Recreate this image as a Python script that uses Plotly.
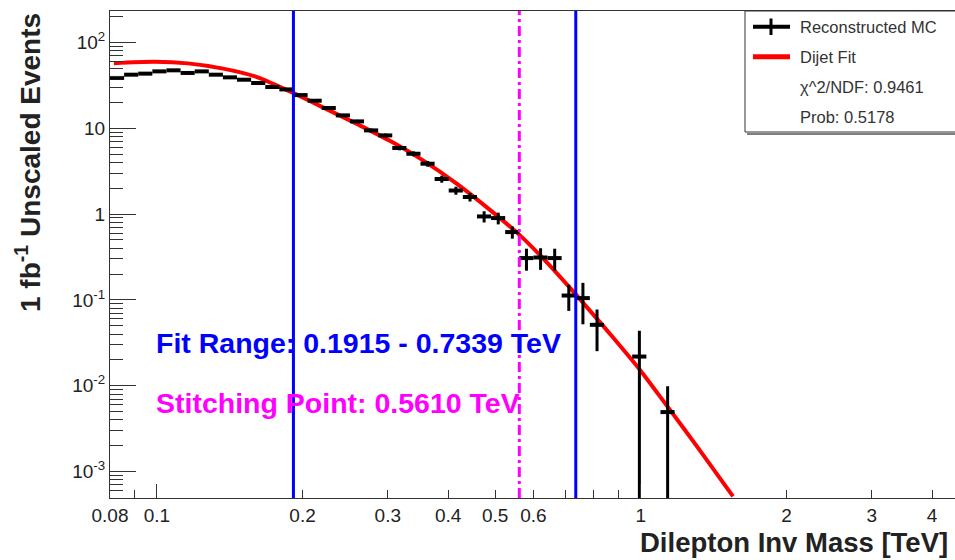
import math
import plotly.graph_objects as go

# ---------------- data ----------------
bin_edges = [0.08, 0.08556, 0.0915, 0.09786, 0.10466, 0.11193, 0.1197, 0.12802, 0.13691,
             0.14642, 0.15659, 0.16747, 0.1791, 0.19154, 0.20485, 0.21907, 0.23429, 0.25057,
             0.26797, 0.28659, 0.30649, 0.32778, 0.35055, 0.3749, 0.40094, 0.42879, 0.45858,
             0.49043, 0.5245, 0.56093, 0.59989, 0.64156, 0.68613, 0.73379, 0.78476, 0.83927,
             0.89757, 0.95991, 1.02683, 1.09811, 1.1744]
mc_counts = [38.5, 42.0, 43.2, 45.9, 47.2, 44.0, 45.9, 42.0, 39.1, 36.7, 33.6, 30.2, 28.3,
             24.3, 20.9, 17.2, 14.1, 12.0, 9.43, 8.24, 5.88, 5.04, 3.86, 2.56, 1.88, 1.58,
             0.938, 0.898, 0.617, 0.307, 0.312, 0.307, 0.1125, 0.105, 0.0513, None, None,
             0.0219, None, 0.00494]
mc_errors = [0.9, 0.95, 0.95, 1.0, 1.0, 0.95, 1.0, 0.95, 0.9, 0.9, 0.85, 0.8, 0.78, 0.72,
             0.66, 0.6, 0.55, 0.5, 0.45, 0.42, 0.36, 0.33, 0.3, 0.24, 0.2, 0.18, 0.14, 0.14,
             0.1, 0.088, 0.088, 0.088, 0.038, 0.053, 0.026, None, None, 0.0219, None, 0.00494]

fit_mass = [0.0815, 0.0990, 0.1159, 0.1362, 0.1594, 0.1883, 0.2204, 0.2591, 0.3031, 0.3547,
            0.4170, 0.4878, 0.5628, 0.6339, 0.7141, 0.7744, 0.8845, 0.9962, 1.1328, 1.3064,
            1.5509]
fit_values = [57.2, 59.5, 56.9, 49.7, 40.1, 26.8, 17.5, 11.2, 7.12, 4.22, 2.25, 1.12, 0.565,
              0.289, 0.138, 0.082, 0.0343, 0.0153, 0.00584, 0.00197, 0.000516]

fit_range = [0.1915, 0.7339]
stitch_point = 0.5610

x_tick_vals = [0.08, 0.1, 0.2, 0.3, 0.4, 0.5, 0.6, 1, 2, 3, 4]
x_tick_text = ["0.08", "0.1", "0.2", "0.3", "0.4", "0.5", "0.6", "1", "2", "3", "4"]
x_minor_vals = [0.09, 0.7, 0.8, 0.9]
x_long_ticks = [0.1, 1]
y_tick_vals = [1e-3, 1e-2, 1e-1, 1, 10, 100]
y_tick_text = ["10<sup>-3</sup>", "10<sup>-2</sup>", "10<sup>-1</sup>", "1", "10", "10<sup>2</sup>"]

legend_labels = ["Reconstructed MC", "Dijet Fit", "\u03c7^2/NDF: 0.9461", "Prob: 0.5178"]
fit_text = "Fit Range: 0.1915 - 0.7339 TeV"
stitch_text = "Stitching Point: 0.5610 TeV"
x_title = "Dilepton Inv Mass [TeV]"
y_title = "1 fb<sup>-1</sup> Unscaled Events"

x_range = [0.08, 4.46]
y_range_log = [-3.307, 2.365]

# ---------------- geometry ----------------
W, H = 955, 560
ML, MR, MT, MB = 110, 0, 11, 62
PW, PH = W - ML - MR, H - MT - MB
FONT = "Liberation Sans, Arial, Helvetica, sans-serif"


def px(x):
    return (x - ML) / PW


def py(y):
    return (H - MB - y) / PH


# ---------------- build histogram points ----------------
cx, cy, ex_lo, ex_hi, ey_lo, ey_hi = [], [], [], [], [], []
for i, v in enumerate(mc_counts):
    if v is None:
        continue
    lo, hi = bin_edges[i], bin_edges[i + 1]
    c = 0.5 * (lo + hi)
    cx.append(c)
    cy.append(v)
    ex_lo.append(c - lo)
    ex_hi.append(hi - c)
    e = mc_errors[i]
    ey_hi.append(e)
    ey_lo.append(min(e, v * 0.9999))

fig = go.Figure()

fig.add_trace(go.Scatter(
    x=fit_mass, y=fit_values, mode="lines",
    line=dict(color="#ff0000", width=4, shape="spline", smoothing=0.8),
    hoverinfo="skip", showlegend=False))

fig.add_trace(go.Scatter(
    x=cx, y=cy, mode="markers",
    marker=dict(color="black", size=2),
    error_x=dict(type="data", symmetric=False, array=ex_hi, arrayminus=ex_lo,
                 color="black", thickness=4, width=0),
    error_y=dict(type="data", symmetric=False, array=ey_hi, arrayminus=ey_lo,
                 color="black", thickness=3, width=0),
    showlegend=False))

# invisible trace to carry the long-tick overlay axis
fig.add_trace(go.Scatter(x=[1], y=[None], xaxis="x2", mode="markers",
                         showlegend=False, hoverinfo="skip"))

shapes = []
for xv in fit_range:
    shapes.append(dict(type="line", xref="x", yref="paper", x0=xv, x1=xv, y0=0, y1=1,
                       line=dict(color="#0000ff", width=3), layer="above"))
shapes.append(dict(type="line", xref="x", yref="paper", x0=stitch_point, x1=stitch_point,
                   y0=0, y1=1, line=dict(color="#ff00ff", width=3, dash="10px,4px,3px,4px"),
                   layer="above"))

# legend box
shapes.append(dict(type="rect", xref="paper", yref="paper", x0=px(745), x1=px(962),
                   y0=py(132), y1=py(11), line=dict(color="#333333", width=1),
                   fillcolor="white", layer="above"))
shapes.append(dict(type="line", xref="paper", yref="paper", x0=px(747), x1=px(962),
                   y0=py(134), y1=py(134), line=dict(color="#555555", width=1.5),
                   layer="above"))
# legend glyphs
shapes.append(dict(type="line", xref="paper", yref="paper", x0=px(753), x1=px(790),
                   y0=py(26.7), y1=py(26.7), line=dict(color="black", width=4), layer="above"))
shapes.append(dict(type="line", xref="paper", yref="paper", x0=px(771), x1=px(771),
                   y0=py(18.5), y1=py(35), line=dict(color="black", width=3), layer="above"))
shapes.append(dict(type="line", xref="paper", yref="paper", x0=px(753), x1=px(790),
                   y0=py(56.7), y1=py(56.7), line=dict(color="#ff0000", width=5), layer="above"))

annotations = []
for lab, yy in zip(legend_labels, [27, 57, 87, 117]):
    annotations.append(dict(text=lab, xref="paper", yref="paper", x=px(798), y=py(yy),
                            xanchor="left", yanchor="middle", showarrow=False,
                            font=dict(family=FONT, size=16.5, color="#333333")))

annotations.append(dict(text="<b>" + fit_text + "</b>", xref="paper", yref="paper",
                        x=px(154), y=py(343), xanchor="left", yanchor="middle",
                        showarrow=False, font=dict(family=FONT, size=28.5, color="#0000ff")))
annotations.append(dict(text="<b>" + stitch_text + "</b>", xref="paper", yref="paper",
                        x=px(154), y=py(403), xanchor="left", yanchor="middle",
                        showarrow=False, font=dict(family=FONT, size=28.5, color="#ff00ff")))
annotations.append(dict(text="<b>" + x_title + "</b>", xref="paper", yref="paper",
                        x=px(950), y=py(542), xanchor="right", yanchor="middle",
                        showarrow=False, font=dict(family=FONT, size=27.5, color="#222222")))
annotations.append(dict(text="<b>" + y_title + "</b>", xref="paper", yref="paper",
                        x=px(28), y=py(163), xanchor="center", yanchor="middle",
                        textangle=-90, showarrow=False,
                        font=dict(family=FONT, size=28, color="#222222")))

y_minor = [m * 10.0 ** e for e in range(-4, 3) for m in range(2, 10)]

fig.update_layout(
    width=W, height=H,
    margin=dict(l=ML, r=MR, t=MT, b=MB, pad=0),
    paper_bgcolor="white", plot_bgcolor="white",
    showlegend=False,
    shapes=shapes, annotations=annotations,
    xaxis=dict(type="log", range=[math.log10(x_range[0]), math.log10(x_range[1])],
               showline=True, linecolor="#333333", linewidth=1, mirror=True,
               ticks="inside", ticklen=8, tickwidth=1, tickcolor="#333333",
               tickvals=x_tick_vals, ticktext=x_tick_text,
               tickfont=dict(family=FONT, size=19, color="#222222"),
               showgrid=False, zeroline=False,
               minor=dict(tickmode="array", tickvals=x_minor_vals, ticks="inside",
                          ticklen=8, tickcolor="#333333", showgrid=False)),
    xaxis2=dict(type="log", overlaying="x", anchor="y", side="bottom",
                range=[math.log10(x_range[0]), math.log10(x_range[1])],
                ticks="inside", ticklen=14, tickwidth=1, tickcolor="#333333",
                tickvals=x_long_ticks, showticklabels=False, showline=False,
                showgrid=False, zeroline=False),
    yaxis=dict(type="log", range=y_range_log,
               showline=True, linecolor="#333333", linewidth=1,
               ticks="inside", ticklen=26, tickwidth=1, tickcolor="#333333",
               tickvals=y_tick_vals, ticktext=y_tick_text,
               tickfont=dict(family=FONT, size=19, color="#222222"),
               showgrid=False, zeroline=False,
               minor=dict(tickmode="array", tickvals=y_minor, ticks="inside",
                          ticklen=13, tickcolor="#333333", showgrid=False)),
)

fig.write_html("out.html")
